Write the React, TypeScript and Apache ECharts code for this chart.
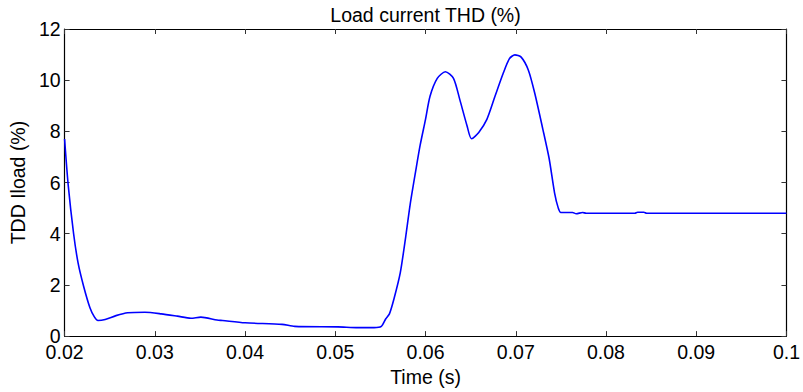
import React, { useEffect, useRef } from "react";
import * as echarts from "echarts";

const times: number[] = [
  0.02, 0.0204, 0.021, 0.0215, 0.0221, 0.0228, 0.0233, 0.0237, 0.0245, 0.0257,
  0.027, 0.0289, 0.0307, 0.0325, 0.034, 0.0351, 0.0369, 0.0375, 0.04, 0.0441,
  0.0455, 0.0503, 0.0525, 0.0543, 0.0551, 0.0556, 0.056, 0.0565, 0.0572, 0.0578,
  0.0583, 0.0589, 0.0594, 0.06, 0.0605, 0.0613, 0.0622, 0.0631, 0.0638, 0.0646,
  0.0651, 0.0659, 0.0668, 0.0677, 0.0686, 0.0693, 0.0699, 0.0706, 0.0714, 0.0721,
  0.073, 0.0737, 0.0743, 0.0747, 0.075, 0.0763, 0.0767, 0.0774, 0.0778, 0.0832,
  0.0835, 0.0842, 0.0845, 0.1,
];
const thd: number[] = [
  7.7, 5.9, 4.0, 2.85, 1.96, 1.12, 0.75, 0.61, 0.65, 0.8,
  0.91, 0.93, 0.87, 0.78, 0.7, 0.74, 0.63, 0.61, 0.52, 0.46,
  0.38, 0.36, 0.33, 0.33, 0.38, 0.68, 0.87, 1.45, 2.47, 3.87,
  5.15, 6.43, 7.45, 8.47, 9.37, 10.07, 10.33, 10.07, 9.24, 8.22,
  7.71, 7.96, 8.47, 9.37, 10.26, 10.84, 10.99, 10.9, 10.39, 9.5,
  8.09, 6.94, 5.6, 5.02, 4.83, 4.83, 4.78, 4.83, 4.8, 4.8,
  4.84, 4.84, 4.8, 4.8,
];

const titleText = "Load current THD (%)";
const xName = "Time (s)";
const yName = "TDD Iload (%)";

const FONT = "'Liberation Sans', Arial, Helvetica, sans-serif";
const FS = 19.5;

export default function App() {
  const ref = useRef<HTMLDivElement>(null);
  useEffect(() => {
    if (!ref.current) return;
    const chart = echarts.init(ref.current, undefined, { renderer: "svg" });
    const tickStyle = { show: true, inside: true, length: 5, lineStyle: { color: "#333", width: 1 } };
    const lineStyle = { show: true, onZero: false, lineStyle: { color: "#000", width: 1.2 } };
    chart.setOption({
      animation: false,
      backgroundColor: "#fff",
      textStyle: { fontFamily: FONT },
      grid: { left: 61, right: 14, top: 28, bottom: 51, containLabel: false },
      xAxis: [
        {
          type: "value",
          min: 0.02,
          max: 0.1,
          interval: 0.01,
          position: "bottom",
          axisLine: lineStyle,
          axisTick: tickStyle,
          splitLine: { show: false },
          axisLabel: {
            color: "#000",
            fontSize: FS,
            fontFamily: FONT,
            margin: 6,
            formatter: (v: number) => String(+v.toFixed(2)),
          },
          name: xName,
          nameLocation: "middle",
          nameGap: 24,
          nameTextStyle: { color: "#000", fontSize: FS, fontFamily: FONT },
        },
        {
          type: "value",
          min: 0.02,
          max: 0.1,
          interval: 0.01,
          position: "top",
          axisLine: lineStyle,
          axisTick: tickStyle,
          splitLine: { show: false },
          axisLabel: { show: false },
          name: titleText,
          nameLocation: "middle",
          nameGap: 4,
          nameTextStyle: { color: "#000", fontSize: FS, fontFamily: FONT, verticalAlign: "bottom" },
        },
      ],
      yAxis: [
        {
          type: "value",
          min: 0,
          max: 12,
          interval: 2,
          position: "left",
          axisLine: lineStyle,
          axisTick: tickStyle,
          splitLine: { show: false },
          axisLabel: { color: "#000", fontSize: FS, fontFamily: FONT, margin: 4 },
          name: yName,
          nameLocation: "middle",
          nameGap: 35,
          nameTextStyle: { color: "#000", fontSize: FS, fontFamily: FONT },
        },
        {
          type: "value",
          min: 0,
          max: 12,
          interval: 2,
          position: "right",
          axisLine: lineStyle,
          axisTick: tickStyle,
          splitLine: { show: false },
          axisLabel: { show: false },
        },
      ],
      series: [
        {
          type: "line",
          data: times.map((t, i) => [t, thd[i]]),
          showSymbol: false,
          symbol: "none",
          smooth: 0.25,
          lineStyle: { color: "#0000ff", width: 1.6 },
          xAxisIndex: 0,
          yAxisIndex: 0,
        },
      ],
    });
    return () => chart.dispose();
  }, []);
  return (
    <div
      ref={ref}
      style={{ position: "absolute", left: 0, top: 0, width: 803, height: 392 }}
    />
  );
}
